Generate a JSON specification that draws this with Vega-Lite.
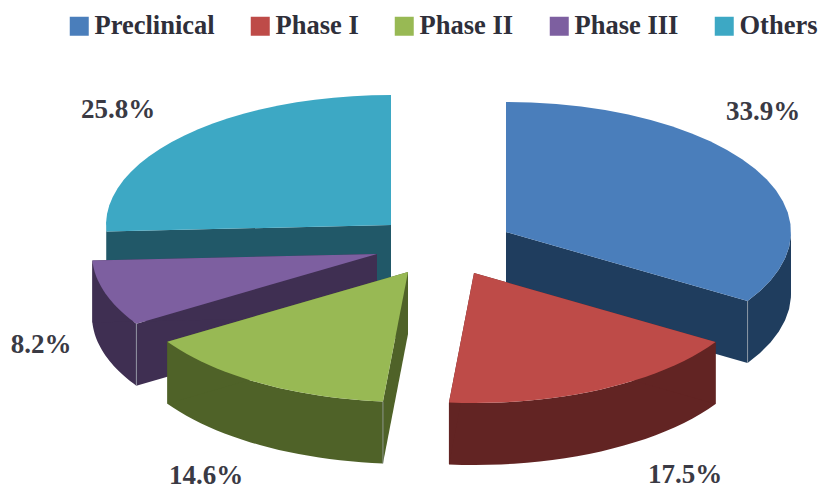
{
  "$schema": "https://vega.github.io/schema/vega-lite/v6.json",
  "width": 822,
  "height": 490,
  "padding": 0,
  "autosize": {"type": "none"},
  "background": "white",
  "config": {"view": {"stroke": null}},
  "data": {
    "values": [
      {"slice": "Others", "value": 25.8, "rank": 5, "n": [0,1,2,3,4,5,6,7,8,9,10,11,12,13,14,15,16,17,18,19,20,21,22,23,24,25,26,27,28,29,30,31,32,33,34,35,36,37,38,39,40,41,42,43,44,45,46,47,48,49,50,51,52,53,54,55,56,57]},
      {"slice": "Preclinical", "value": 33.9, "rank": 1, "n": [0,1,2,3,4,5,6,7,8,9,10,11,12,13,14,15,16,17,18,19,20,21,22,23,24,25,26,27,28,29,30,31,32,33,34,35,36,37,38,39,40,41,42,43,44,45,46,47,48,49,50,51,52,53,54,55,56,57]},
      {"slice": "Phase III", "value": 8.2, "rank": 4, "n": [0,1,2,3,4,5,6,7,8,9,10,11,12,13,14,15,16,17,18,19,20,21,22,23,24,25,26,27,28,29,30,31,32,33,34,35,36,37,38,39,40,41,42,43,44,45,46,47,48,49,50,51,52,53,54,55,56,57]},
      {"slice": "Phase II", "value": 14.6, "rank": 3, "n": [0,1,2,3,4,5,6,7,8,9,10,11,12,13,14,15,16,17,18,19,20,21,22,23,24,25,26,27,28,29,30,31,32,33,34,35,36,37,38,39,40,41,42,43,44,45,46,47,48,49,50,51,52,53,54,55,56,57]},
      {"slice": "Phase I", "value": 17.5, "rank": 2, "n": [0,1,2,3,4,5,6,7,8,9,10,11,12,13,14,15,16,17,18,19,20,21,22,23,24,25,26,27,28,29,30,31,32,33,34,35,36,37,38,39,40,41,42,43,44,45,46,47,48,49,50,51,52,53,54,55,56,57]}
    ]
  },
  "transform": [
    {"window": [{"op": "sum", "field": "value", "as": "cum"}], "sort": [{"field": "rank", "order": "ascending"}]},
    {"calculate": "datum.cum - datum.value", "as": "start"},
    {"calculate": "{'Preclinical':506,'Phase I':474,'Phase II':408,'Phase III':377,'Others':391}[datum.slice]", "as": "cx"},
    {"calculate": "{'Preclinical':232,'Phase I':273,'Phase II':272,'Phase III':254,'Others':225}[datum.slice]", "as": "cy"},
    {"flatten": ["n"]}
  ],
  "layer": [
    {
      "transform": [
        {"calculate": "datum.n < 50 ? 'outer' : datum.n < 54 ? 'cutStart' : 'cutEnd'", "as": "part"},
        {"calculate": "datum.n == 50 || datum.n == 53 || datum.n == 54 || datum.n == 57", "as": "atApex"},
        {"calculate": "datum.n < 25 ? datum.n / 24 : datum.n < 50 ? (49 - datum.n) / 24 : datum.n < 54 ? 0 : 1", "as": "u"},
        {"calculate": "(datum.n >= 25 && datum.n < 50) || datum.n == 52 || datum.n == 53 || datum.n == 56 || datum.n == 57 ? 1 : 0", "as": "lower"},
        {"calculate": "(datum.start + datum.u * datum.value) * 2 * PI / 100", "as": "rawAngle"},
        {"calculate": "datum.n < 50 ? clamp(datum.rawAngle, PI / 2, 3 * PI / 2) : datum.rawAngle", "as": "angle"},
        {"calculate": "datum.cx + (datum.atApex ? 0 : 285 * sin(datum.angle))", "as": "px"},
        {"calculate": "datum.cy + datum.lower * 62 - (datum.atApex ? 0 : 130 * cos(datum.angle))", "as": "py"}
      ],
      "mark": {"type": "line", "strokeWidth": 0, "interpolate": "linear", "clip": false},
      "encoding": {
        "x": {"field": "px", "type": "quantitative", "scale": {"domain": [0, 822], "nice": false, "zero": false}, "axis": null},
        "y": {"field": "py", "type": "quantitative", "scale": {"domain": [490, 0], "nice": false, "zero": false}, "axis": null},
        "order": {"field": "n", "type": "quantitative"},
        "detail": {"field": "part"},
        "fill": {
          "field": "slice",
          "type": "nominal",
          "legend": null,
          "scale": {
            "domain": ["Preclinical", "Phase I", "Phase II", "Phase III", "Others"],
            "range": ["#1F3D5E", "#622423", "#4F6228", "#3F2F52", "#215868"]
          }
        }
      }
    },
    {
      "transform": [
        {"filter": "(datum.slice == 'Preclinical' && (datum.n == 55 || datum.n == 56)) || ((datum.slice == 'Phase II' || datum.slice == 'Phase III') && (datum.n == 51 || datum.n == 52))"},
        {"calculate": "datum.n >= 54 ? datum.cum : datum.start", "as": "edge"},
        {"calculate": "datum.edge * 2 * PI / 100", "as": "angle"},
        {"calculate": "datum.cx + 285 * sin(datum.angle)", "as": "px"},
        {"calculate": "datum.cy + (datum.n == 52 || datum.n == 56 ? 62 : 0) - 130 * cos(datum.angle)", "as": "py"}
      ],
      "mark": {"type": "line", "stroke": "#A0A8B0", "strokeWidth": 1, "opacity": 0.7, "clip": false},
      "encoding": {
        "x": {"field": "px", "type": "quantitative", "scale": {"domain": [0, 822], "nice": false, "zero": false}, "axis": null},
        "y": {"field": "py", "type": "quantitative", "scale": {"domain": [490, 0], "nice": false, "zero": false}, "axis": null},
        "order": {"field": "n", "type": "quantitative"},
        "detail": {"field": "slice"}
      }
    },
    {
      "transform": [
        {"filter": "datum.n <= 25"},
        {"calculate": "(datum.start + (datum.n - 1) / 24 * datum.value) * 2 * PI / 100", "as": "angle"},
        {"calculate": "datum.cx + (datum.n == 0 ? 0 : 285 * sin(datum.angle))", "as": "px"},
        {"calculate": "datum.cy - (datum.n == 0 ? 0 : 130 * cos(datum.angle))", "as": "py"}
      ],
      "mark": {"type": "line", "strokeWidth": 0, "interpolate": "linear", "clip": false},
      "encoding": {
        "x": {"field": "px", "type": "quantitative", "scale": {"domain": [0, 822], "nice": false, "zero": false}, "axis": null},
        "y": {"field": "py", "type": "quantitative", "scale": {"domain": [490, 0], "nice": false, "zero": false}, "axis": null},
        "order": {"field": "n", "type": "quantitative"},
        "fill": {
          "field": "slice",
          "type": "nominal",
          "scale": {
            "domain": ["Preclinical", "Phase I", "Phase II", "Phase III", "Others"],
            "range": ["#4A7EBB", "#BE4B48", "#98B954", "#7D5FA0", "#3DA8C4"]
          },
          "legend": {
            "title": null,
            "orient": "none",
            "legendX": 66,
            "legendY": 13,
            "direction": "horizontal",
            "columns": 5,
            "gridAlign": "none",
            "columnPadding": 32,
            "symbolType": "square",
            "symbolSize": 361,
            "symbolStrokeWidth": 0,
            "symbolOffset": 0,
            "labelFont": "Liberation Serif",
            "labelFontSize": 26.5,
            "labelFontWeight": "bold",
            "labelColor": "#2F2F3A",
            "labelOffset": 2,
            "labelLimit": 200
          }
        }
      }
    },
    {
      "transform": [
        {"filter": "datum.n == 0"},
        {"calculate": "format(datum.value, '.1f') + '%'", "as": "label"},
        {"calculate": "{'Preclinical':763,'Phase I':685,'Phase II':206,'Phase III':41,'Others':118}[datum.slice]", "as": "labelX"},
        {"calculate": "{'Preclinical':112,'Phase I':475,'Phase II':476,'Phase III':345,'Others':110}[datum.slice]", "as": "labelY"}
      ],
      "mark": {"type": "text", "font": "Liberation Serif", "fontSize": 27, "fontWeight": "bold", "color": "#3A3A44", "align": "center", "baseline": "middle"},
      "encoding": {
        "x": {"field": "labelX", "type": "quantitative", "scale": {"domain": [0, 822], "nice": false, "zero": false}, "axis": null},
        "y": {"field": "labelY", "type": "quantitative", "scale": {"domain": [490, 0], "nice": false, "zero": false}, "axis": null},
        "text": {"field": "label", "type": "nominal"}
      }
    }
  ],
  "resolve": {"scale": {"fill": "independent"}}
}
